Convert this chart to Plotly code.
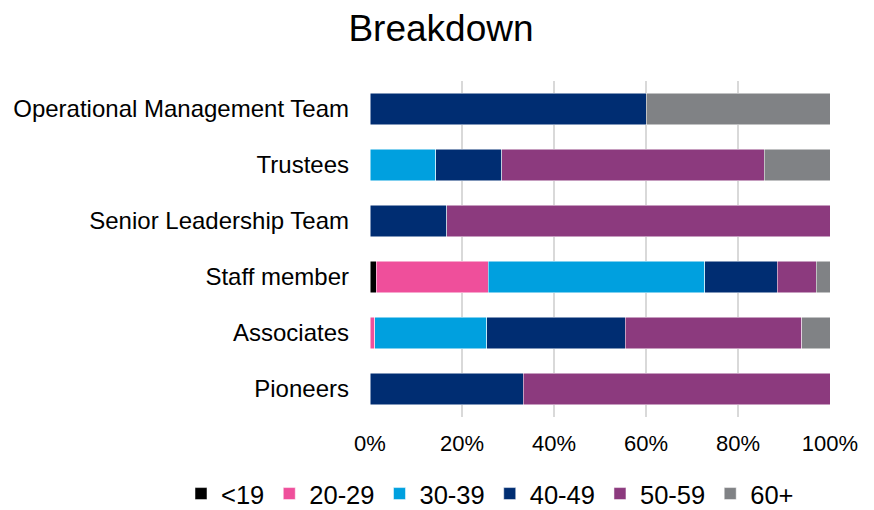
import plotly.graph_objects as go

categories = ["Operational Management Team", "Trustees", "Senior Leadership Team",
              "Staff member", "Associates", "Pioneers"]
series_names = ["<19", "20-29", "30-39", "40-49", "50-59", "60+"]
colors = ["#000000", "#EF4F9B", "#00A0DF", "#002D72", "#8C3A7E", "#808285"]

# percentage values per series, in category order
v_lt19 = [0, 0, 0, 1.4, 0, 0]
v_20_29 = [0, 0, 0, 24.3, 1.0, 0]
v_30_39 = [0, 14.3, 0, 47.1, 24.4, 0]
v_40_49 = [60.0, 14.3, 16.7, 15.7, 30.1, 33.3]
v_50_59 = [0, 57.1, 83.3, 8.5, 38.4, 66.7]
v_60p = [40.0, 14.3, 0, 3.0, 6.1, 0]
values = [v_lt19, v_20_29, v_30_39, v_40_49, v_50_59, v_60p]

fig = go.Figure()
for name, col, vals in zip(series_names, colors, values):
    fig.add_trace(go.Bar(
        y=categories, x=vals, name=name, orientation="h",
        marker=dict(color=col, line=dict(color="white", width=0.5)),
        width=0.57,
    ))

# page body has an 8px margin, so the figure is 8px smaller than the window
W, H = 866, 502
L, R, T, B = 362, 44, 73, 93
plot_w = W - L - R
plot_h = H - T - B

fig.update_layout(
    barmode="stack",
    width=W, height=H,
    paper_bgcolor="white", plot_bgcolor="white",
    font=dict(family="Liberation Sans, Arial, sans-serif", color="#000000", size=22),
    title=dict(text="Breakdown", x=0.5, xanchor="center", y=1 - 20 / H, yanchor="middle",
               font=dict(size=37, color="#000000")),
    margin=dict(l=L, r=R, t=T, b=B, autoexpand=False),
    showlegend=True,
    legend=dict(orientation="h",
                x=(173 - L) / plot_w, xanchor="left",
                y=-(486 - (T + plot_h)) / plot_h, yanchor="middle",
                font=dict(size=25.5), traceorder="normal", itemwidth=30),
    xaxis=dict(range=[0, 100], tickvals=[0, 20, 40, 60, 80, 100],
               ticktext=["0%", "20%", "40%", "60%", "80%", "100%"],
               showgrid=True, gridcolor="#D9D9D9", gridwidth=2,
               zeroline=False, showline=False, ticks="", tickfont=dict(size=22),
               ticklabelstandoff=11, automargin=False),
    yaxis=dict(categoryorder="array", categoryarray=categories[::-1],
               showgrid=False, zeroline=False, showline=False, ticks="",
               ticklabelstandoff=20, tickfont=dict(size=24), automargin=False),
)

fig.write_html("out.html")
